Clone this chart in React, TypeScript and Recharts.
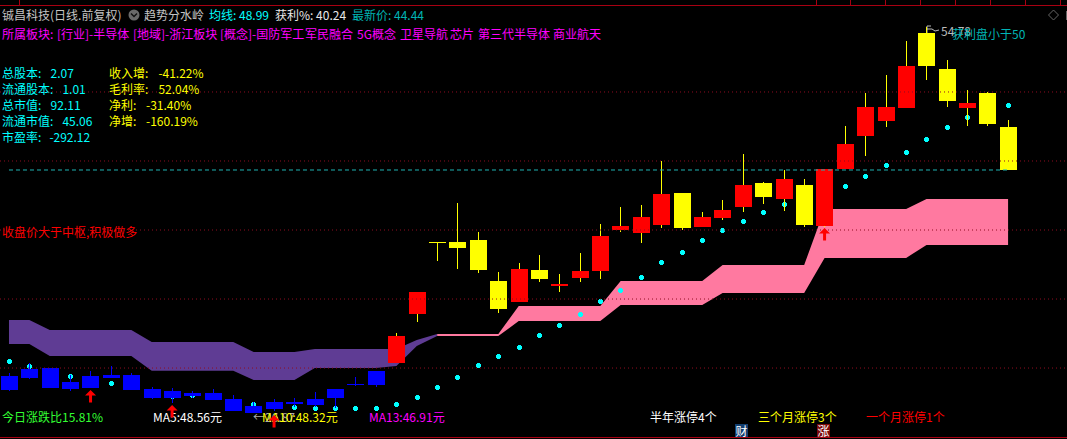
import React from "react";
import { ComposedChart, XAxis, YAxis, Area, Bar, Line, ReferenceLine } from "recharts";

const opens = [29.55,30.05,30.12,29.11,29.55,29.62,29.62,28.61,28.46,28.32,28.32,27.88,27.38,27.67,27.67,27.88,28.61,28.97,29.91,30.49,34.03,39.23,39.23,39.38,36.41,34.90,37.21,36.05,36.63,37.14,40.10,39.88,40.46,42.78,40.32,40.97,41.76,43.50,42.34,43.35,40.39,44.51,46.90,47.98,48.92,54.34,51.74,48.92,50.01,47.55];
const closes = [28.53,29.40,28.70,28.61,28.70,29.40,28.53,27.96,27.96,28.10,27.81,27.01,26.87,27.16,27.52,27.45,27.96,28.89,28.89,32.44,35.62,39.16,38.80,37.21,34.39,37.28,36.56,36.20,37.14,39.67,40.39,41.04,42.70,40.25,41.04,41.55,43.35,42.49,43.79,40.46,44.51,46.32,48.99,48.99,51.96,51.96,49.43,49.28,47.77,44.44];
const highs = [29.74,30.46,30.12,29.62,29.88,30.27,29.76,28.73,28.68,28.46,28.61,28.17,27.67,27.88,27.96,28.39,28.61,29.47,29.91,32.65,35.62,39.23,42.05,39.96,37.06,37.72,38.29,36.92,38.44,40.53,41.76,41.91,45.09,42.78,41.40,42.27,45.60,43.57,44.44,43.79,44.51,47.62,50.01,51.31,53.77,54.78,52.39,50.22,50.08,48.05];
const lows = [28.44,29.33,28.70,28.46,28.70,29.40,28.53,27.88,27.59,27.96,27.81,27.01,26.87,27.01,27.30,27.30,27.23,28.82,28.75,30.49,33.45,37.86,37.28,36.99,34.10,34.90,36.34,35.62,36.34,36.56,39.96,39.16,40.25,40.10,40.32,40.82,41.40,41.98,41.47,40.32,40.32,44.51,45.45,47.55,48.92,50.95,48.99,47.62,47.62,44.44];
const trailDots = [30.56,30.22,29.84,29.50,29.11,28.97,28.68,28.24,28.03,28.10,28.10,27.59,27.52,27.45,27.30,27.16,27.16,27.16,27.23,27.45,27.96,28.68,29.47,30.27,30.92,31.64,32.44,33.16,33.96,34.90,35.76,36.70,37.72,38.51,39.31,40.03,40.75,41.33,41.91,42.49,42.85,43.28,44.00,44.80,45.74,46.68,47.48,48.20,48.63,49.07];
const bandTop = [33.59,33.59,32.87,32.87,32.87,32.87,32.87,32.00,32.00,32.00,32.00,32.00,31.28,31.28,31.28,31.50,31.50,31.50,31.50,31.50,32.15,32.58,32.58,32.58,32.58,34.61,34.61,34.61,34.61,34.61,36.41,36.41,36.41,36.41,36.41,37.57,37.57,37.57,37.57,37.57,41.62,41.62,41.62,41.62,41.62,42.34,42.34,42.34,42.34,42.34];
const bandBottom = [31.86,31.86,30.99,30.99,30.99,30.99,30.99,29.93,29.93,29.93,29.93,29.93,29.26,29.26,29.26,30.12,30.12,30.12,30.12,30.27,31.71,32.44,32.44,32.44,32.44,33.52,33.52,33.52,33.52,33.52,34.68,34.68,34.68,34.68,34.68,35.55,35.55,35.55,35.55,35.55,38.08,38.08,38.08,38.08,38.08,39.02,39.02,39.02,39.02,39.02];
const signalIndexes = [4, 8, 13, 40];
const signalPrices = [28.53, 27.45, 26.73, 40.25];
const gridPrices = [50.08, 45.09, 40.10, 35.11, 30.12];
const lastPrice = 44.44;
const weakCount = 19;
const purpleEnd = 21;

const data = opens.map((open, i) => {
  const s = signalIndexes.indexOf(i);
  return {
    i,
    open,
    close: closes[i],
    high: highs[i],
    low: lows[i],
    dot: trailDots[i],
    purple: i <= purpleEnd ? [bandBottom[i], bandTop[i]] : null,
    pink: i >= purpleEnd ? [bandBottom[i], bandTop[i]] : null,
    signal: s >= 0 ? signalPrices[s] : null,
  };
});

const FONT = '"Noto Sans CJK SC", "Noto Sans", sans-serif';
const CYAN = "#00ffff";
const TEAL = "#00b4b4";
const MAGENTA = "#ff00ff";
const YELLOW = "#ffff00";
const RED = "#ff0000";
const FRAME = "#a80012";

function T({ x, y, c, children }: { x: number; y: number; c: string; children: React.ReactNode }) {
  return (
    <div style={{ position: "absolute", left: x, top: y - 7, lineHeight: "14px", height: 14, fontSize: 12, fontFamily: FONT, color: c, whiteSpace: "pre" }}>
      {children}
    </div>
  );
}

// Each candle is drawn over its own trailing-stop dot, as the reference hides the dot behind the body.
function Candle(props: any) {
  const { x, y, width, height, payload } = props;
  const { open, close, high, low, dot, i } = payload;
  const scale = height / (high - low);
  const top = y + (high - Math.max(open, close)) * scale;
  const bottom = y + (high - Math.min(open, close)) * scale;
  const dotY = y + (high - dot) * scale;
  const weak = i < weakCount;
  const bodyColor = weak ? "#0000ff" : close >= open ? RED : YELLOW;
  const wickColor = weak ? "#0000ff" : YELLOW;
  const left = Math.round(x);
  const w = Math.round(width);
  const mid = left + Math.floor(w / 2);
  return (
    <g>
      <path d={`M${mid - 1} ${dotY - 2.5}h3v1h1v3h-1v1h-3v-1h-1v-3h1z`} fill={CYAN} shapeRendering="crispEdges" />
      <g shapeRendering="crispEdges">
        <rect x={mid} y={y} width={1} height={height} fill={wickColor} />
        <rect x={left} y={top} width={w} height={Math.max(bottom - top, 1)} fill={bodyColor} />
      </g>
    </g>
  );
}

function SignalArrow(props: any) {
  const { cx, cy, index, payload } = props;
  if (cx == null || cy == null || payload.signal == null) return <g key={index} />;
  const d = `M${cx} ${cy}L${cx + 5.5} ${cy + 5.5}L${cx + 1.5} ${cy + 5.5}L${cx + 1.5} ${cy + 12.5}L${cx - 1.5} ${cy + 12.5}L${cx - 1.5} ${cy + 5.5}L${cx - 5.5} ${cy + 5.5}Z`;
  return <path key={index} d={d} fill={RED} />;
}

const tickXs = [19, 816, 850, 885, 920, 955, 990, 1025, 1060];

export default function App() {
  return (
    <div style={{ position: "fixed", left: 0, top: 0, width: 1067, height: 439, background: "#000", overflow: "hidden" }}>
      <div style={{ position: "absolute", left: 0, top: 5, width: 1067, height: 1, background: FRAME }} />
      <div style={{ position: "absolute", left: 0, top: 437, width: 1067, height: 1, background: FRAME }} />
      {tickXs.map((x) => (
        <div key={x} style={{ position: "absolute", left: x, top: 0, width: 1, height: 5, background: FRAME }} />
      ))}
      <svg style={{ position: "absolute", left: 0, top: 0 }} width={1067} height={439}>
        <circle cx={134} cy={15} r={5.5} fill="#6a6a6a" />
        <path d="M131 13.5L134 16.5L137 13.5" fill="none" stroke="#111" strokeWidth={1.5} />
        <path d="M1053.5 10L1058.5 15L1053.5 20L1048.5 15Z" fill="none" stroke="#666" />
        <rect x={1066} y={11} width={1} height={9} fill="#666" />
        <path d="M927 33V26H931M927 29H932L935 31L939 30" fill="none" stroke="#bbb" />
      </svg>

      <T x={2} y={15} c="#c4c4c4">铖昌科技(日线.前复权)</T>
      <T x={144} y={15} c="#c4c4c4">趋势分水岭</T>
      <T x={209} y={15} c={CYAN}>均线: 48.99</T>
      <T x={275} y={15} c="#e8e8e8">获利%: 40.24</T>
      <T x={352} y={15} c={TEAL}>最新价: 44.44</T>

      <T x={2} y={34} c={MAGENTA}>所属板块:</T>
      <T x={57} y={34} c={MAGENTA}>[行业]-半导体</T>
      <T x={133} y={34} c={MAGENTA}>[地域]-浙江板块</T>
      <T x={220} y={34} c={MAGENTA}>[概念]-国防军工</T>
      <T x={305} y={34} c={MAGENTA}>军民融合</T>
      <T x={357} y={34} c={MAGENTA}>5G概念</T>
      <T x={400} y={34} c={MAGENTA}>卫星导航</T>
      <T x={450} y={34} c={MAGENTA}>芯片</T>
      <T x={478} y={34} c={MAGENTA}>第三代半导体</T>
      <T x={553} y={34} c={MAGENTA}>商业航天</T>

      <T x={2} y={73} c={CYAN}>总股本:</T><T x={50.6} y={73} c={CYAN}>2.07</T>
      <T x={2} y={89} c={CYAN}>流通股本:</T><T x={62.4} y={89} c={CYAN}>1.01</T>
      <T x={2} y={105} c={CYAN}>总市值:</T><T x={50.6} y={105} c={CYAN}>92.11</T>
      <T x={2} y={121} c={CYAN}>流通市值:</T><T x={62.4} y={121} c={CYAN}>45.06</T>
      <T x={2} y={137} c={CYAN}>市盈率:</T><T x={49.4} y={137} c={CYAN}>-292.12</T>
      <T x={109} y={73} c={YELLOW}>收入增:</T><T x={158.4} y={73} c={YELLOW}>-41.22%</T>
      <T x={109} y={89} c={YELLOW}>毛利率:</T><T x={158.4} y={89} c={YELLOW}>52.04%</T>
      <T x={109} y={105} c={YELLOW}>净利:</T><T x={146} y={105} c={YELLOW}>-31.40%</T>
      <T x={109} y={121} c={YELLOW}>净增:</T><T x={146} y={121} c={YELLOW}>-160.19%</T>

      <T x={2} y={232} c={RED}>收盘价大于中枢,积极做多</T>

      <T x={941} y={31} c="#bbbbbb">54.78</T>
      <T x={952} y={34} c={TEAL}>获利盘小于50</T>

      <T x={2} y={417} c="#33ff33">今日涨跌比15.81%</T>
      <T x={153} y={417} c="#ffffff">MA5:48.56元</T>
      <T x={253} y={417} c="#aaaaaa">←26.87</T>
      <T x={262} y={417} c={YELLOW}>MA10:48.32元</T>
      <T x={369} y={417} c={MAGENTA}>MA13:46.91元</T>
      <T x={650} y={417} c="#ffffff">半年涨停4个</T>
      <T x={758} y={417} c={YELLOW}>三个月涨停3个</T>
      <T x={866} y={417} c={RED}>一个月涨停1个</T>

      <div style={{ position: "absolute", left: 735, top: 424, width: 13, height: 13, background: "#123e6f", color: "#fff", fontSize: 12, lineHeight: "13px", textAlign: "center", fontFamily: FONT }}>财</div>
      <div style={{ position: "absolute", left: 817, top: 424, width: 13, height: 13, background: "#7a0a0a", color: "#fff", fontSize: 12, lineHeight: "13px", textAlign: "center", fontFamily: FONT }}>涨</div>

      <div style={{ position: "absolute", left: 0, top: 0 }}>
        <ComposedChart width={1067} height={439} data={data} margin={{ top: 0, right: 0, bottom: 0, left: 0 }}>
          <XAxis dataKey="i" type="number" domain={[-0.441, 51.89]} hide />
          <YAxis type="number" domain={[24.99, 56.73]} hide width={0} />
          {gridPrices.map((p) => (
            <ReferenceLine key={p} y={p} stroke="#8f0c20" strokeDasharray="1 3" strokeWidth={1} />
          ))}
          <ReferenceLine segment={[{ x: 0, y: lastPrice }, { x: 49, y: lastPrice }]} stroke="#1fb4b4" strokeDasharray="4 3" strokeWidth={1} />
          <Area dataKey="purple" stroke="none" fill="#5f3c94" fillOpacity={1} isAnimationActive={false} dot={false} activeDot={false} />
          <Area dataKey="pink" stroke="none" fill="#ff79a0" fillOpacity={1} isAnimationActive={false} dot={false} activeDot={false} />
          <Bar dataKey={(d: any) => [d.low, d.high]} barSize={17} shape={Candle} isAnimationActive={false} />
          <Line dataKey="signal" stroke="none" dot={SignalArrow} activeDot={false} isAnimationActive={false} />
        </ComposedChart>
      </div>
    </div>
  );
}
